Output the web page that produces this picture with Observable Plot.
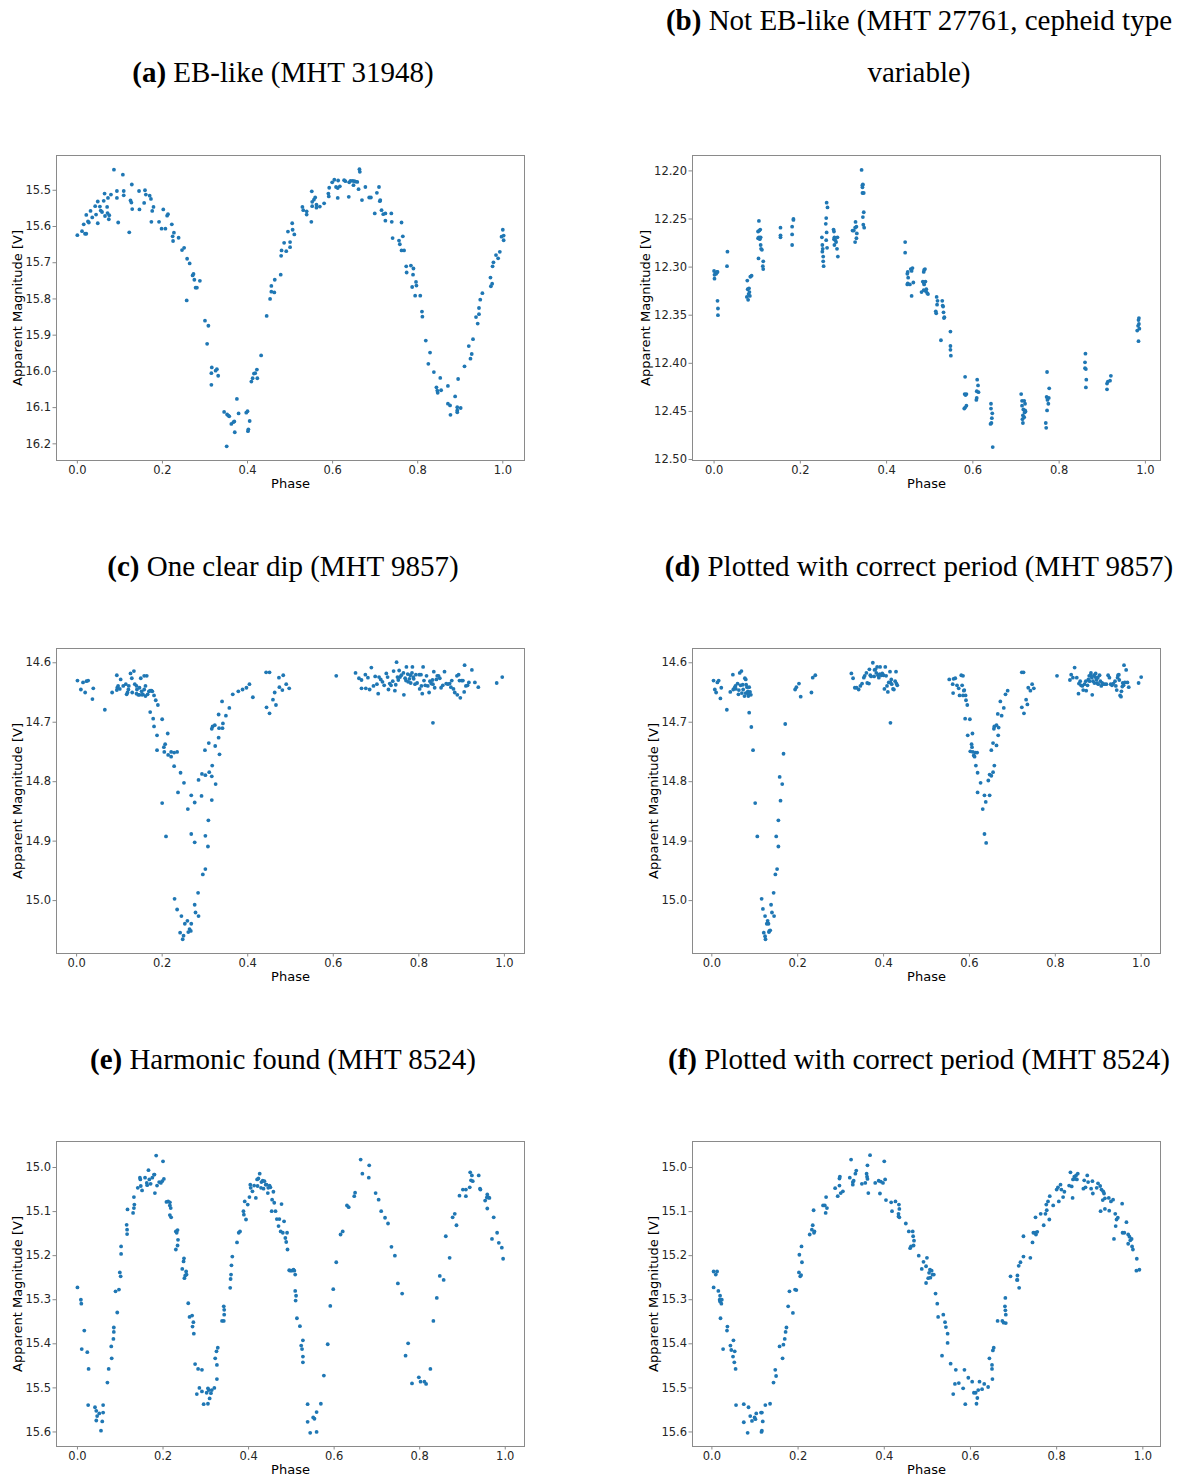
<!DOCTYPE html>
<html>
<head>
<meta charset="utf-8">
<script src="https://cdn.jsdelivr.net/npm/d3@7"></script>
<script src="https://cdn.jsdelivr.net/npm/@observablehq/plot@0.6"></script>
<style>
  html, body { margin: 0; padding: 0; background: #fff; }
  #fig { position: relative; width: 1186px; height: 1477px; background: #fff; overflow: hidden; }
  .ttl { position: absolute; width: 800px; height: 30px; line-height: 30px; text-align: center; white-space: nowrap;
         font-family: "Liberation Serif", "DejaVu Serif", serif; font-size: 29px; color: #000; }
  .panel { position: absolute; }
</style>
</head>
<body>
<div id="fig"></div>
<script>
// ---------- tick labels ----------
const phaseTicks = [0, 0.2, 0.4, 0.6, 0.8, 1.0];
const ticksA = [15.5, 15.6, 15.7, 15.8, 15.9, 16.0, 16.1, 16.2];
const ticksB = [12.20, 12.25, 12.30, 12.35, 12.40, 12.45, 12.50];
const ticksC = [14.6, 14.7, 14.8, 14.9, 15.0];
const ticksD = [14.6, 14.7, 14.8, 14.9, 15.0];
const ticksE = [15.0, 15.1, 15.2, 15.3, 15.4, 15.5, 15.6];
const ticksF = [15.0, 15.1, 15.2, 15.3, 15.4, 15.5, 15.6];

// ---------- titles ----------
const titleA = ["(a)", " EB-like (MHT 31948)"];
const titleB1 = ["(b)", " Not EB-like (MHT 27761, cepheid type"];
const titleB2 = ["", "variable)"];
const titleC = ["(c)", " One clear dip (MHT 9857)"];
const titleD = ["(d)", " Plotted with correct period (MHT 9857)"];
const titleE = ["(e)", " Harmonic found (MHT 8524)"];
const titleF = ["(f)", " Plotted with correct period (MHT 8524)"];

// ---------- data: [phase, apparent magnitude V] ----------
const pointsA = [[0.000,15.624],[0.011,15.613],[0.015,15.594],[0.018,15.620],[0.021,15.620],[0.021,15.568],[0.025,15.586],[0.027,15.589],[0.031,15.557],[0.035,15.575],[0.042,15.544],[0.044,15.567],[0.048,15.531],[0.048,15.591],[0.053,15.545],[0.055,15.556],[0.058,15.560],[0.062,15.529],[0.064,15.509],[0.065,15.571],[0.070,15.546],[0.071,15.563],[0.072,15.521],[0.074,15.580],[0.075,15.569],[0.079,15.512],[0.086,15.443],[0.093,15.521],[0.093,15.502],[0.096,15.589],[0.107,15.457],[0.109,15.502],[0.109,15.514],[0.122,15.616],[0.125,15.528],[0.127,15.534],[0.128,15.484],[0.129,15.552],[0.145,15.502],[0.146,15.553],[0.157,15.535],[0.159,15.500],[0.161,15.512],[0.170,15.515],[0.173,15.524],[0.174,15.587],[0.176,15.557],[0.179,15.546],[0.192,15.587],[0.198,15.606],[0.202,15.553],[0.207,15.606],[0.211,15.570],[0.213,15.566],[0.222,15.594],[0.224,15.627],[0.225,15.640],[0.227,15.617],[0.238,15.631],[0.246,15.665],[0.251,15.659],[0.258,15.689],[0.264,15.702],[0.271,15.735],[0.273,15.731],[0.275,15.747],[0.278,15.769],[0.281,15.769],[0.288,15.750],[0.257,15.804],[0.300,15.860],[0.308,15.874],[0.305,15.924],[0.316,15.989],[0.315,16.037],[0.315,16.005],[0.325,15.998],[0.328,15.994],[0.331,16.012],[0.345,16.112],[0.351,16.207],[0.352,16.119],[0.355,16.122],[0.357,16.124],[0.362,16.145],[0.367,16.140],[0.369,16.138],[0.370,16.168],[0.375,16.076],[0.379,16.116],[0.397,16.114],[0.400,16.110],[0.401,16.165],[0.402,16.160],[0.405,16.137],[0.409,16.028],[0.412,16.019],[0.415,16.006],[0.418,16.005],[0.423,16.019],[0.422,15.995],[0.432,15.956],[0.445,15.847],[0.453,15.800],[0.456,15.780],[0.456,15.764],[0.463,15.782],[0.464,15.747],[0.478,15.733],[0.479,15.681],[0.480,15.666],[0.486,15.645],[0.491,15.668],[0.495,15.614],[0.500,15.643],[0.500,15.657],[0.505,15.591],[0.506,15.609],[0.510,15.622],[0.529,15.546],[0.531,15.555],[0.539,15.558],[0.539,15.567],[0.550,15.587],[0.551,15.503],[0.552,15.532],[0.552,15.544],[0.556,15.526],[0.559,15.520],[0.562,15.548],[0.562,15.540],[0.570,15.545],[0.580,15.536],[0.590,15.509],[0.592,15.493],[0.591,15.517],[0.599,15.478],[0.604,15.471],[0.608,15.491],[0.612,15.521],[0.612,15.494],[0.613,15.473],[0.617,15.489],[0.627,15.472],[0.630,15.475],[0.638,15.518],[0.639,15.478],[0.642,15.474],[0.647,15.474],[0.651,15.475],[0.654,15.476],[0.658,15.477],[0.649,15.486],[0.661,15.497],[0.663,15.442],[0.664,15.449],[0.669,15.527],[0.677,15.491],[0.686,15.520],[0.690,15.520],[0.699,15.564],[0.704,15.507],[0.709,15.491],[0.711,15.530],[0.712,15.527],[0.715,15.555],[0.719,15.566],[0.724,15.564],[0.724,15.584],[0.738,15.564],[0.739,15.587],[0.741,15.632],[0.756,15.639],[0.758,15.649],[0.762,15.589],[0.765,15.627],[0.762,15.666],[0.768,15.666],[0.773,15.710],[0.774,15.727],[0.784,15.708],[0.790,15.716],[0.789,15.733],[0.787,15.767],[0.796,15.753],[0.797,15.763],[0.794,15.791],[0.806,15.791],[0.810,15.835],[0.811,15.849],[0.819,15.915],[0.829,15.948],[0.825,15.979],[0.838,16.002],[0.844,16.044],[0.846,16.053],[0.847,16.059],[0.853,16.018],[0.855,16.052],[0.871,16.040],[0.871,16.089],[0.876,16.094],[0.877,16.120],[0.888,16.069],[0.893,16.099],[0.893,16.108],[0.893,16.113],[0.895,16.021],[0.901,16.101],[0.910,15.986],[0.920,15.930],[0.924,15.965],[0.927,15.952],[0.930,15.911],[0.937,15.850],[0.941,15.868],[0.944,15.842],[0.944,15.825],[0.947,15.802],[0.952,15.784],[0.971,15.741],[0.972,15.765],[0.975,15.758],[0.976,15.710],[0.978,15.699],[0.984,15.679],[0.989,15.688],[0.993,15.670],[0.997,15.628],[1.000,15.609],[1.002,15.625],[1.002,15.638]];

const pointsB = [[0.000,12.304],[0.001,12.312],[0.001,12.308],[0.003,12.306],[0.005,12.307],[0.007,12.305],[0.008,12.305],[0.008,12.335],[0.009,12.343],[0.009,12.350],[0.031,12.284],[0.030,12.299],[0.077,12.314],[0.078,12.323],[0.081,12.322],[0.076,12.331],[0.080,12.328],[0.083,12.330],[0.084,12.310],[0.087,12.309],[0.082,12.326],[0.079,12.334],[0.104,12.252],[0.102,12.263],[0.105,12.262],[0.107,12.261],[0.102,12.270],[0.104,12.269],[0.106,12.271],[0.108,12.269],[0.103,12.291],[0.108,12.277],[0.109,12.281],[0.111,12.282],[0.114,12.294],[0.114,12.302],[0.113,12.299],[0.154,12.259],[0.154,12.267],[0.154,12.269],[0.181,12.258],[0.181,12.266],[0.181,12.277],[0.184,12.250],[0.184,12.251],[0.250,12.269],[0.251,12.277],[0.252,12.281],[0.251,12.284],[0.253,12.289],[0.253,12.294],[0.254,12.299],[0.261,12.233],[0.263,12.238],[0.260,12.249],[0.259,12.255],[0.261,12.264],[0.260,12.272],[0.262,12.280],[0.277,12.261],[0.278,12.263],[0.279,12.269],[0.278,12.271],[0.279,12.277],[0.281,12.272],[0.283,12.274],[0.286,12.269],[0.285,12.281],[0.287,12.289],[0.321,12.262],[0.324,12.262],[0.327,12.259],[0.328,12.253],[0.330,12.258],[0.331,12.265],[0.330,12.270],[0.327,12.274],[0.342,12.199],[0.344,12.215],[0.344,12.217],[0.345,12.214],[0.344,12.223],[0.347,12.223],[0.347,12.243],[0.345,12.248],[0.346,12.256],[0.348,12.259],[0.443,12.274],[0.443,12.285],[0.449,12.305],[0.448,12.307],[0.450,12.311],[0.449,12.317],[0.448,12.318],[0.454,12.318],[0.456,12.302],[0.460,12.301],[0.458,12.304],[0.462,12.316],[0.458,12.330],[0.487,12.303],[0.489,12.302],[0.486,12.305],[0.484,12.315],[0.486,12.316],[0.490,12.315],[0.487,12.318],[0.486,12.324],[0.481,12.326],[0.491,12.325],[0.494,12.327],[0.492,12.323],[0.496,12.328],[0.516,12.331],[0.518,12.335],[0.517,12.339],[0.515,12.348],[0.514,12.346],[0.529,12.335],[0.531,12.341],[0.532,12.347],[0.534,12.352],[0.533,12.353],[0.530,12.340],[0.526,12.376],[0.548,12.367],[0.548,12.382],[0.548,12.386],[0.549,12.392],[0.582,12.414],[0.581,12.432],[0.585,12.432],[0.583,12.433],[0.580,12.447],[0.582,12.446],[0.585,12.444],[0.610,12.417],[0.612,12.423],[0.609,12.429],[0.613,12.430],[0.609,12.436],[0.608,12.438],[0.642,12.442],[0.642,12.447],[0.645,12.452],[0.644,12.457],[0.641,12.463],[0.643,12.462],[0.646,12.487],[0.712,12.432],[0.714,12.439],[0.719,12.439],[0.714,12.444],[0.721,12.442],[0.717,12.448],[0.721,12.449],[0.716,12.454],[0.719,12.456],[0.715,12.458],[0.716,12.462],[0.720,12.451],[0.722,12.450],[0.772,12.409],[0.777,12.426],[0.771,12.435],[0.773,12.438],[0.776,12.436],[0.775,12.442],[0.772,12.449],[0.769,12.462],[0.770,12.467],[0.861,12.390],[0.860,12.399],[0.860,12.405],[0.862,12.406],[0.863,12.417],[0.862,12.425],[0.911,12.421],[0.913,12.419],[0.918,12.418],[0.920,12.413],[0.911,12.427],[0.985,12.353],[0.984,12.355],[0.985,12.359],[0.983,12.361],[0.986,12.364],[0.981,12.366],[0.984,12.377]];

const pointsC = [[0.002,14.630],[0.010,14.645],[0.015,14.633],[0.020,14.650],[0.023,14.631],[0.027,14.630],[0.037,14.661],[0.039,14.643],[0.066,14.679],[0.083,14.650],[0.094,14.621],[0.094,14.646],[0.095,14.642],[0.097,14.639],[0.103,14.628],[0.101,14.644],[0.109,14.639],[0.115,14.636],[0.117,14.653],[0.119,14.650],[0.121,14.645],[0.126,14.618],[0.129,14.626],[0.134,14.614],[0.130,14.650],[0.122,14.639],[0.136,14.636],[0.140,14.639],[0.141,14.645],[0.144,14.654],[0.147,14.642],[0.150,14.626],[0.152,14.648],[0.155,14.653],[0.158,14.622],[0.158,14.645],[0.161,14.656],[0.161,14.639],[0.164,14.622],[0.166,14.653],[0.169,14.648],[0.172,14.647],[0.175,14.647],[0.177,14.648],[0.147,14.654],[0.153,14.654],[0.140,14.652],[0.181,14.655],[0.185,14.663],[0.190,14.671],[0.172,14.683],[0.179,14.694],[0.181,14.707],[0.188,14.722],[0.188,14.747],[0.200,14.695],[0.200,14.836],[0.204,14.742],[0.207,14.737],[0.205,14.750],[0.209,14.892],[0.213,14.719],[0.214,14.755],[0.221,14.750],[0.221,14.758],[0.228,14.751],[0.235,14.750],[0.228,14.774],[0.237,14.818],[0.243,14.785],[0.251,14.802],[0.229,14.997],[0.235,15.015],[0.245,15.026],[0.242,15.054],[0.250,15.059],[0.248,15.065],[0.253,15.039],[0.259,15.034],[0.261,15.053],[0.264,15.048],[0.267,15.051],[0.268,15.039],[0.260,14.846],[0.268,14.823],[0.268,14.888],[0.276,14.835],[0.276,14.902],[0.276,15.007],[0.278,15.020],[0.285,15.026],[0.284,14.987],[0.285,14.797],[0.292,14.824],[0.293,14.787],[0.301,14.789],[0.295,14.956],[0.301,14.947],[0.300,14.747],[0.301,14.891],[0.308,14.865],[0.307,14.909],[0.309,14.735],[0.310,14.784],[0.316,14.791],[0.316,14.831],[0.317,14.773],[0.316,14.711],[0.318,14.707],[0.323,14.705],[0.324,14.740],[0.325,14.804],[0.332,14.726],[0.333,14.710],[0.334,14.754],[0.332,14.687],[0.341,14.710],[0.342,14.702],[0.340,14.665],[0.349,14.689],[0.357,14.676],[0.365,14.653],[0.378,14.648],[0.388,14.645],[0.397,14.642],[0.404,14.636],[0.412,14.658],[0.443,14.616],[0.451,14.616],[0.444,14.675],[0.451,14.685],[0.459,14.662],[0.463,14.650],[0.466,14.671],[0.473,14.625],[0.474,14.641],[0.481,14.646],[0.483,14.621],[0.490,14.636],[0.497,14.643],[0.607,14.622],[0.652,14.617],[0.660,14.626],[0.666,14.629],[0.666,14.643],[0.675,14.620],[0.676,14.643],[0.681,14.625],[0.685,14.645],[0.689,14.608],[0.694,14.639],[0.698,14.623],[0.702,14.636],[0.705,14.652],[0.707,14.624],[0.711,14.628],[0.715,14.632],[0.719,14.638],[0.724,14.618],[0.727,14.624],[0.729,14.645],[0.732,14.635],[0.735,14.638],[0.739,14.631],[0.741,14.614],[0.744,14.647],[0.746,14.637],[0.748,14.599],[0.750,14.624],[0.752,14.629],[0.754,14.613],[0.756,14.624],[0.759,14.621],[0.764,14.617],[0.765,14.654],[0.768,14.626],[0.770,14.630],[0.771,14.607],[0.774,14.619],[0.775,14.632],[0.778,14.627],[0.780,14.621],[0.781,14.634],[0.784,14.617],[0.785,14.607],[0.787,14.624],[0.788,14.627],[0.791,14.636],[0.793,14.620],[0.796,14.634],[0.801,14.620],[0.802,14.644],[0.805,14.620],[0.806,14.639],[0.808,14.652],[0.810,14.607],[0.812,14.630],[0.815,14.638],[0.818,14.622],[0.821,14.639],[0.824,14.650],[0.826,14.631],[0.829,14.635],[0.832,14.629],[0.833,14.701],[0.833,14.636],[0.835,14.615],[0.837,14.642],[0.841,14.628],[0.843,14.622],[0.846,14.622],[0.849,14.626],[0.852,14.642],[0.856,14.638],[0.860,14.615],[0.864,14.635],[0.868,14.636],[0.872,14.635],[0.875,14.641],[0.877,14.630],[0.881,14.644],[0.884,14.650],[0.889,14.622],[0.890,14.654],[0.893,14.620],[0.895,14.630],[0.897,14.659],[0.900,14.630],[0.903,14.630],[0.906,14.649],[0.907,14.604],[0.910,14.639],[0.914,14.638],[0.917,14.633],[0.924,14.612],[0.931,14.633],[0.939,14.641],[0.982,14.634],[0.995,14.624]];

const pointsD = [[0.004,14.630],[0.007,14.645],[0.010,14.650],[0.013,14.633],[0.016,14.630],[0.020,14.660],[0.022,14.642],[0.035,14.679],[0.043,14.649],[0.049,14.620],[0.050,14.645],[0.053,14.642],[0.055,14.639],[0.056,14.644],[0.060,14.635],[0.062,14.653],[0.063,14.646],[0.065,14.617],[0.067,14.638],[0.069,14.614],[0.070,14.651],[0.072,14.637],[0.073,14.645],[0.076,14.656],[0.077,14.626],[0.079,14.651],[0.080,14.637],[0.082,14.641],[0.084,14.648],[0.085,14.656],[0.087,14.641],[0.089,14.649],[0.091,14.654],[0.085,14.653],[0.079,14.628],[0.087,14.684],[0.092,14.708],[0.096,14.747],[0.101,14.836],[0.106,14.892],[0.116,14.997],[0.119,15.014],[0.124,15.026],[0.121,15.054],[0.124,15.060],[0.125,15.065],[0.128,15.039],[0.130,15.034],[0.132,15.039],[0.134,15.051],[0.136,15.050],[0.133,15.053],[0.138,15.007],[0.140,15.020],[0.144,14.987],[0.145,15.026],[0.148,14.956],[0.152,14.947],[0.150,14.892],[0.155,14.865],[0.155,14.909],[0.158,14.792],[0.160,14.832],[0.164,14.804],[0.167,14.753],[0.171,14.703],[0.194,14.645],[0.197,14.641],[0.203,14.635],[0.207,14.657],[0.232,14.650],[0.235,14.625],[0.241,14.621],[0.325,14.618],[0.329,14.626],[0.333,14.642],[0.337,14.642],[0.342,14.645],[0.346,14.639],[0.350,14.635],[0.354,14.625],[0.356,14.622],[0.360,14.617],[0.362,14.634],[0.366,14.635],[0.367,14.611],[0.369,14.621],[0.371,14.623],[0.375,14.600],[0.378,14.623],[0.379,14.612],[0.381,14.611],[0.383,14.617],[0.385,14.607],[0.387,14.621],[0.389,14.625],[0.391,14.619],[0.392,14.607],[0.395,14.621],[0.397,14.618],[0.400,14.621],[0.402,14.644],[0.404,14.607],[0.406,14.622],[0.408,14.639],[0.410,14.649],[0.412,14.633],[0.415,14.615],[0.416,14.633],[0.418,14.628],[0.419,14.636],[0.422,14.644],[0.424,14.645],[0.427,14.631],[0.429,14.615],[0.430,14.635],[0.432,14.638],[0.416,14.701],[0.553,14.628],[0.561,14.636],[0.563,14.627],[0.567,14.626],[0.562,14.651],[0.571,14.638],[0.575,14.643],[0.577,14.655],[0.581,14.621],[0.585,14.622],[0.583,14.638],[0.587,14.647],[0.588,14.646],[0.585,14.655],[0.591,14.655],[0.592,14.663],[0.595,14.671],[0.590,14.694],[0.601,14.695],[0.596,14.722],[0.607,14.719],[0.605,14.737],[0.606,14.742],[0.602,14.749],[0.608,14.750],[0.610,14.756],[0.614,14.751],[0.618,14.751],[0.612,14.758],[0.615,14.773],[0.619,14.785],[0.626,14.802],[0.619,14.818],[0.635,14.823],[0.638,14.834],[0.631,14.846],[0.647,14.823],[0.635,14.888],[0.639,14.903],[0.644,14.798],[0.647,14.788],[0.651,14.790],[0.655,14.784],[0.658,14.773],[0.651,14.747],[0.655,14.735],[0.663,14.739],[0.657,14.711],[0.658,14.707],[0.663,14.705],[0.668,14.709],[0.667,14.722],[0.666,14.686],[0.672,14.665],[0.675,14.689],[0.680,14.676],[0.684,14.653],[0.689,14.647],[0.722,14.616],[0.726,14.616],[0.722,14.675],[0.727,14.685],[0.732,14.662],[0.735,14.670],[0.737,14.642],[0.742,14.647],[0.746,14.636],[0.750,14.643],[0.804,14.622],[0.834,14.629],[0.837,14.620],[0.841,14.625],[0.845,14.608],[0.850,14.625],[0.854,14.652],[0.855,14.635],[0.858,14.631],[0.860,14.638],[0.863,14.639],[0.865,14.646],[0.868,14.636],[0.871,14.631],[0.872,14.647],[0.875,14.638],[0.877,14.628],[0.879,14.622],[0.880,14.631],[0.882,14.621],[0.883,14.617],[0.885,14.625],[0.886,14.654],[0.888,14.631],[0.890,14.621],[0.891,14.634],[0.893,14.624],[0.894,14.618],[0.896,14.628],[0.897,14.634],[0.899,14.625],[0.900,14.636],[0.903,14.621],[0.905,14.631],[0.907,14.639],[0.909,14.634],[0.911,14.636],[0.915,14.636],[0.919,14.636],[0.923,14.621],[0.926,14.625],[0.929,14.636],[0.932,14.638],[0.935,14.635],[0.939,14.631],[0.941,14.639],[0.943,14.646],[0.945,14.625],[0.946,14.621],[0.948,14.620],[0.949,14.629],[0.951,14.655],[0.953,14.657],[0.954,14.648],[0.956,14.640],[0.957,14.634],[0.959,14.638],[0.960,14.604],[0.962,14.633],[0.965,14.612],[0.968,14.633],[0.971,14.641],[0.994,14.634],[1.000,14.624]];

const pointsE = [[0.000,15.272],[0.008,15.300],[0.009,15.309],[0.010,15.412],[0.016,15.370],[0.023,15.419],[0.026,15.457],[0.025,15.539],[0.041,15.544],[0.044,15.552],[0.044,15.574],[0.046,15.564],[0.051,15.558],[0.055,15.597],[0.058,15.576],[0.060,15.556],[0.060,15.539],[0.070,15.488],[0.073,15.457],[0.079,15.406],[0.080,15.433],[0.084,15.389],[0.085,15.363],[0.085,15.373],[0.089,15.281],[0.093,15.329],[0.097,15.277],[0.099,15.238],[0.101,15.247],[0.102,15.196],[0.102,15.179],[0.115,15.130],[0.116,15.141],[0.116,15.151],[0.117,15.095],[0.130,15.103],[0.132,15.092],[0.133,15.084],[0.132,15.067],[0.141,15.046],[0.146,15.023],[0.147,15.027],[0.148,15.042],[0.151,15.052],[0.158,15.023],[0.162,15.035],[0.163,15.040],[0.166,15.006],[0.168,15.027],[0.171,15.037],[0.175,15.023],[0.179,15.016],[0.180,15.016],[0.181,15.058],[0.184,14.973],[0.186,15.041],[0.191,15.033],[0.195,15.035],[0.198,15.031],[0.200,14.986],[0.202,15.026],[0.208,15.078],[0.212,15.077],[0.216,15.079],[0.216,15.086],[0.218,15.092],[0.216,15.108],[0.219,15.113],[0.230,15.145],[0.234,15.142],[0.232,15.148],[0.235,15.164],[0.234,15.177],[0.230,15.186],[0.245,15.230],[0.248,15.213],[0.249,15.206],[0.250,15.251],[0.254,15.236],[0.255,15.243],[0.252,15.245],[0.259,15.308],[0.262,15.339],[0.268,15.336],[0.269,15.361],[0.271,15.351],[0.272,15.377],[0.275,15.446],[0.282,15.457],[0.279,15.514],[0.285,15.500],[0.291,15.459],[0.291,15.508],[0.295,15.537],[0.305,15.536],[0.302,15.511],[0.307,15.505],[0.312,15.512],[0.309,15.524],[0.305,15.501],[0.314,15.505],[0.320,15.500],[0.326,15.480],[0.322,15.433],[0.326,15.448],[0.325,15.417],[0.328,15.409],[0.338,15.348],[0.342,15.348],[0.342,15.315],[0.343,15.323],[0.343,15.334],[0.357,15.273],[0.358,15.253],[0.359,15.243],[0.360,15.222],[0.362,15.202],[0.373,15.170],[0.377,15.148],[0.380,15.145],[0.388,15.099],[0.389,15.107],[0.391,15.077],[0.394,15.118],[0.398,15.084],[0.402,15.067],[0.404,15.039],[0.405,15.046],[0.409,15.054],[0.413,15.041],[0.417,15.069],[0.420,15.027],[0.421,15.042],[0.423,15.025],[0.426,15.014],[0.429,15.046],[0.430,15.033],[0.433,15.030],[0.435,15.048],[0.437,15.031],[0.440,15.039],[0.442,15.039],[0.445,15.058],[0.446,15.046],[0.449,15.041],[0.451,15.045],[0.454,15.099],[0.455,15.073],[0.458,15.055],[0.460,15.080],[0.463,15.099],[0.466,15.117],[0.470,15.133],[0.472,15.117],[0.475,15.145],[0.477,15.083],[0.480,15.148],[0.483,15.122],[0.486,15.160],[0.488,15.169],[0.490,15.148],[0.491,15.186],[0.495,15.233],[0.497,15.234],[0.501,15.234],[0.505,15.232],[0.507,15.234],[0.509,15.243],[0.509,15.280],[0.511,15.291],[0.510,15.302],[0.513,15.342],[0.520,15.360],[0.527,15.392],[0.523,15.404],[0.525,15.412],[0.527,15.429],[0.527,15.442],[0.538,15.537],[0.538,15.577],[0.544,15.602],[0.551,15.567],[0.554,15.570],[0.559,15.555],[0.559,15.600],[0.569,15.536],[0.576,15.472],[0.585,15.401],[0.591,15.314],[0.598,15.276],[0.605,15.215],[0.615,15.152],[0.620,15.145],[0.630,15.086],[0.634,15.090],[0.647,15.065],[0.649,15.057],[0.662,14.982],[0.666,15.014],[0.681,15.023],[0.682,14.995],[0.697,15.058],[0.704,15.073],[0.710,15.099],[0.719,15.114],[0.726,15.127],[0.734,15.180],[0.742,15.200],[0.749,15.263],[0.759,15.286],[0.773,15.399],[0.767,15.427],[0.782,15.490],[0.798,15.476],[0.802,15.486],[0.811,15.486],[0.815,15.491],[0.825,15.457],[0.832,15.348],[0.840,15.296],[0.847,15.246],[0.856,15.255],[0.861,15.156],[0.870,15.205],[0.877,15.113],[0.882,15.105],[0.886,15.131],[0.893,15.064],[0.901,15.050],[0.908,15.050],[0.908,15.065],[0.917,15.045],[0.918,15.011],[0.922,15.018],[0.920,15.029],[0.924,15.031],[0.938,15.018],[0.941,15.048],[0.942,15.050],[0.953,15.075],[0.957,15.068],[0.958,15.061],[0.961,15.068],[0.963,15.069],[0.958,15.093],[0.973,15.113],[0.981,15.148],[0.969,15.162],[0.985,15.171],[0.992,15.182],[0.995,15.207]];

const pointsF = [[0.004,15.236],[0.012,15.236],[0.009,15.243],[0.004,15.272],[0.015,15.280],[0.018,15.300],[0.019,15.291],[0.022,15.309],[0.019,15.304],[0.023,15.300],[0.020,15.342],[0.026,15.412],[0.036,15.361],[0.035,15.370],[0.043,15.404],[0.045,15.414],[0.049,15.429],[0.052,15.442],[0.053,15.417],[0.050,15.392],[0.055,15.457],[0.056,15.539],[0.074,15.537],[0.074,15.578],[0.083,15.602],[0.085,15.544],[0.089,15.564],[0.093,15.575],[0.099,15.567],[0.101,15.571],[0.103,15.558],[0.114,15.556],[0.116,15.556],[0.118,15.576],[0.115,15.600],[0.116,15.597],[0.124,15.539],[0.135,15.536],[0.143,15.488],[0.147,15.459],[0.149,15.473],[0.157,15.406],[0.164,15.433],[0.166,15.402],[0.169,15.389],[0.171,15.373],[0.173,15.363],[0.177,15.315],[0.180,15.281],[0.188,15.330],[0.193,15.277],[0.196,15.278],[0.202,15.238],[0.205,15.247],[0.207,15.244],[0.203,15.198],[0.208,15.179],[0.209,15.215],[0.227,15.152],[0.232,15.141],[0.234,15.131],[0.237,15.148],[0.238,15.145],[0.236,15.097],[0.258,15.086],[0.262,15.086],[0.264,15.103],[0.267,15.092],[0.265,15.067],[0.286,15.047],[0.292,15.065],[0.296,15.025],[0.297,15.021],[0.299,15.058],[0.304,15.054],[0.296,15.041],[0.320,15.023],[0.323,14.982],[0.327,15.039],[0.327,15.033],[0.329,15.030],[0.333,15.014],[0.335,15.007],[0.348,15.037],[0.356,15.035],[0.359,15.014],[0.361,15.026],[0.360,15.021],[0.361,14.995],[0.363,15.058],[0.367,14.972],[0.379,15.035],[0.387,15.030],[0.390,15.059],[0.392,15.032],[0.397,15.035],[0.400,14.986],[0.402,15.027],[0.404,15.074],[0.416,15.079],[0.418,15.099],[0.426,15.077],[0.434,15.084],[0.435,15.094],[0.433,15.105],[0.433,15.111],[0.435,15.113],[0.450,15.127],[0.457,15.145],[0.460,15.183],[0.462,15.179],[0.466,15.145],[0.467,15.156],[0.469,15.166],[0.468,15.177],[0.480,15.200],[0.487,15.230],[0.491,15.214],[0.497,15.262],[0.497,15.224],[0.499,15.205],[0.502,15.251],[0.504,15.239],[0.506,15.232],[0.507,15.250],[0.510,15.234],[0.512,15.243],[0.515,15.243],[0.519,15.286],[0.523,15.309],[0.525,15.339],[0.537,15.334],[0.541,15.351],[0.543,15.362],[0.547,15.377],[0.547,15.398],[0.534,15.427],[0.554,15.445],[0.566,15.459],[0.564,15.491],[0.560,15.514],[0.573,15.489],[0.583,15.501],[0.586,15.459],[0.588,15.537],[0.595,15.477],[0.604,15.486],[0.608,15.511],[0.612,15.511],[0.618,15.505],[0.616,15.523],[0.614,15.536],[0.621,15.486],[0.627,15.503],[0.632,15.491],[0.641,15.498],[0.651,15.480],[0.650,15.457],[0.650,15.448],[0.652,15.415],[0.654,15.409],[0.644,15.433],[0.663,15.348],[0.674,15.348],[0.677,15.352],[0.682,15.353],[0.682,15.334],[0.681,15.324],[0.680,15.315],[0.681,15.296],[0.693,15.247],[0.709,15.245],[0.709,15.255],[0.713,15.273],[0.708,15.255],[0.712,15.223],[0.716,15.215],[0.723,15.202],[0.723,15.156],[0.739,15.205],[0.744,15.170],[0.746,15.148],[0.750,15.148],[0.752,15.152],[0.755,15.146],[0.751,15.113],[0.763,15.105],[0.770,15.131],[0.774,15.105],[0.776,15.084],[0.777,15.097],[0.780,15.077],[0.783,15.118],[0.784,15.065],[0.792,15.086],[0.800,15.050],[0.803,15.045],[0.805,15.077],[0.809,15.039],[0.811,15.050],[0.815,15.067],[0.818,15.055],[0.829,15.041],[0.832,15.011],[0.835,15.043],[0.837,15.069],[0.838,15.027],[0.841,15.021],[0.843,15.026],[0.845,15.018],[0.847,15.027],[0.849,15.014],[0.862,15.048],[0.864,15.029],[0.867,15.045],[0.871,15.018],[0.873,15.033],[0.880,15.048],[0.883,15.031],[0.884,15.059],[0.893,15.046],[0.896,15.036],[0.901,15.042],[0.902,15.099],[0.904,15.050],[0.907,15.074],[0.908,15.054],[0.910,15.059],[0.912,15.070],[0.912,15.094],[0.921,15.069],[0.922,15.098],[0.926,15.077],[0.931,15.073],[0.933,15.162],[0.937,15.133],[0.936,15.105],[0.939,15.118],[0.942,15.114],[0.952,15.082],[0.953,15.148],[0.957,15.148],[0.962,15.124],[0.966,15.152],[0.966,15.173],[0.969,15.157],[0.971,15.165],[0.974,15.162],[0.977,15.186],[0.975,15.179],[0.986,15.207],[0.985,15.234],[0.992,15.232]];

// ---------- layout ----------
const fig = document.getElementById("fig");
const colCenters = [283, 919];

function addTitle(parts, cx, cy) {
  const d = document.createElement("div");
  d.className = "ttl";
  d.style.left = (cx - 400) + "px";
  d.style.top = (cy - 15) + "px";
  if (parts[0]) {
    const b = document.createElement("b");
    b.textContent = parts[0];
    d.appendChild(b);
  }
  d.appendChild(document.createTextNode(parts[1]));
  fig.appendChild(d);
}
addTitle(titleA, colCenters[0], 72);
addTitle(titleB1, colCenters[1], 20);
addTitle(titleB2, colCenters[1], 72);
addTitle(titleC, colCenters[0], 566);
addTitle(titleD, colCenters[1], 566);
addTitle(titleE, colCenters[0], 1059);
addTitle(titleF, colCenters[1], 1059);

const panels = [
  {data: pointsA, ticks: ticksA, fmt: ".1f", xd: [-0.049, 1.051], yd: [15.404, 16.246], left: 0,   top: 145,  lo: 44},
  {data: pointsB, ticks: ticksB, fmt: ".2f", xd: [-0.050, 1.035], yd: [12.184, 12.501], left: 636, top: 145,  lo: 52},
  {data: pointsC, ticks: ticksC, fmt: ".1f", xd: [-0.047, 1.047], yd: [14.576, 15.089], left: 0,   top: 638,  lo: 44},
  {data: pointsD, ticks: ticksD, fmt: ".1f", xd: [-0.045, 1.045], yd: [14.576, 15.089], left: 636, top: 638,  lo: 44},
  {data: pointsE, ticks: ticksE, fmt: ".1f", xd: [-0.049, 1.045], yd: [14.941, 15.633], left: 0,   top: 1131, lo: 44},
  {data: pointsF, ticks: ticksF, fmt: ".1f", xd: [-0.045, 1.041], yd: [14.941, 15.633], left: 636, top: 1131, lo: 44}
];

for (const p of panels) {
  const chart = Plot.plot({
    width: 530, height: 340,
    marginLeft: 56, marginRight: 6, marginTop: 10, marginBottom: 25,
    style: {fontFamily: "DejaVu Sans", fontSize: "11px", color: "#262626", background: "transparent", overflow: "visible"},
    x: {domain: p.xd},
    y: {domain: p.yd, reverse: true},
    marks: [
      Plot.frame({stroke: "#8a8a8a"}),
      Plot.axisX(phaseTicks, {tickFormat: d3.format(".1f"), tickSize: 3.5, tickPadding: 2, fontSize: 11.5, stroke: "#8a8a8a", fill: "#262626", label: null}),
      Plot.axisY(p.ticks, {tickFormat: d3.format(p.fmt), tickSize: 3.5, tickPadding: 2, fontSize: 11.5, stroke: "#8a8a8a", fill: "#262626", label: null}),
      Plot.axisX([], {label: "Phase", labelAnchor: "center", labelArrow: "none", labelOffset: 27, fontSize: 13, fill: "#000", tickSize: 0}),
      Plot.axisY([], {label: "Apparent Magnitude [V]", labelAnchor: "center", labelArrow: "none", labelOffset: p.lo, fontSize: 13, fill: "#000", tickSize: 0}),
      Plot.dot(p.data, {x: d => d[0], y: d => d[1], r: 1.9, fill: "#1f77b4", stroke: null})
    ]
  });
  const wrap = document.createElement("div");
  wrap.className = "panel";
  wrap.style.left = p.left + "px";
  wrap.style.top = p.top + "px";
  wrap.appendChild(chart);
  fig.appendChild(wrap);
}
</script>
</body>
</html>
